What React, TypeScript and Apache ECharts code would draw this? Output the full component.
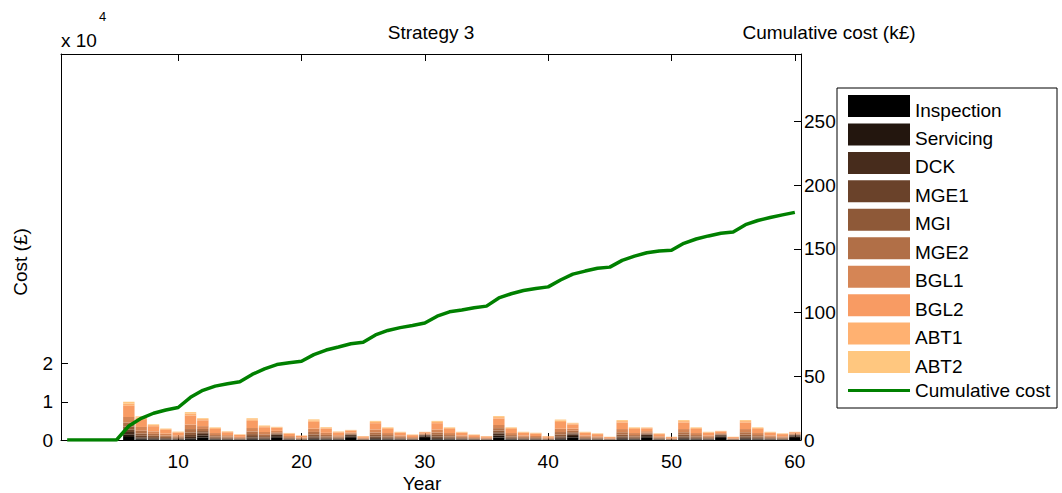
import { useEffect, useRef } from "react";
import * as echarts from "echarts";

// Cost components, stacked bottom to top (copper colour map)
const componentNames = ["Inspection", "Servicing", "DCK", "MGE1", "MGI", "MGE2", "BGL1", "BGL2", "ABT1", "ABT2"];
const componentColors = ["#000000", "#23160e", "#472c1c", "#6a422a", "#8e5938", "#b16f47", "#d58555", "#f89b63", "#ffb171", "#ffc77f"];

// Annual cost per component (£), years 1..60
const inspection = [0, 0, 0, 0, 0, 770, 190, 120, 90, 70, 220, 640, 100, 70, 40, 170, 110, 570, 60, 40, 160, 100, 70, 550, 30, 150, 100, 60, 40, 530, 150, 100, 60, 40, 30, 650, 100, 60, 60, 30, 160, 600, 60, 50, 30, 160, 100, 570, 50, 30, 160, 100, 60, 540, 30, 160, 100, 60, 50, 530];
const servicing = [0, 0, 0, 0, 0, 620, 190, 120, 90, 70, 220, 490, 100, 70, 40, 170, 110, 420, 60, 40, 160, 100, 70, 400, 30, 150, 100, 60, 40, 380, 150, 100, 60, 40, 30, 500, 100, 60, 60, 30, 160, 450, 60, 50, 30, 160, 100, 420, 50, 30, 160, 100, 60, 390, 30, 160, 100, 60, 50, 380];
const dck = [0, 0, 0, 0, 0, 700, 310, 210, 150, 110, 370, 480, 160, 110, 80, 290, 190, 370, 90, 60, 270, 170, 110, 330, 50, 250, 160, 110, 70, 300, 250, 160, 110, 70, 50, 510, 160, 110, 90, 50, 270, 420, 110, 90, 40, 260, 160, 360, 90, 40, 260, 160, 110, 310, 40, 260, 160, 110, 90, 300];
const mge1 = [0, 0, 0, 0, 0, 620, 430, 290, 210, 150, 510, 320, 230, 160, 100, 400, 270, 160, 130, 80, 380, 240, 160, 110, 70, 350, 230, 150, 100, 70, 350, 230, 150, 100, 70, 360, 230, 150, 130, 70, 370, 240, 150, 120, 60, 360, 230, 150, 120, 60, 360, 230, 150, 90, 60, 360, 230, 150, 120, 70];
const mgi = [0, 0, 0, 0, 0, 800, 560, 370, 270, 200, 660, 410, 300, 210, 140, 510, 340, 210, 170, 110, 490, 310, 200, 140, 100, 450, 300, 190, 130, 100, 450, 300, 190, 130, 100, 460, 300, 190, 170, 100, 480, 310, 190, 160, 80, 470, 300, 200, 160, 80, 470, 300, 190, 120, 80, 470, 300, 190, 160, 100];
const mge2 = [0, 0, 0, 0, 0, 1070, 740, 490, 360, 260, 880, 550, 400, 280, 180, 680, 460, 280, 220, 140, 650, 410, 270, 190, 130, 600, 400, 260, 180, 130, 600, 400, 260, 180, 130, 620, 400, 260, 230, 130, 640, 410, 260, 210, 100, 620, 400, 260, 210, 100, 620, 400, 260, 160, 100, 620, 400, 260, 210, 130];
const bgl1 = [0, 0, 0, 0, 0, 1420, 990, 660, 480, 350, 1170, 740, 530, 370, 240, 910, 610, 380, 300, 190, 860, 540, 360, 250, 170, 800, 530, 340, 230, 170, 800, 530, 340, 230, 170, 820, 530, 340, 300, 170, 860, 540, 340, 280, 130, 830, 530, 350, 280, 130, 830, 530, 340, 210, 130, 830, 530, 340, 280, 170];
const bgl2 = [0, 0, 0, 0, 0, 2940, 2050, 1350, 990, 730, 2400, 1520, 1090, 760, 500, 1880, 1250, 780, 600, 400, 1780, 1120, 740, 500, 350, 1650, 1090, 710, 480, 350, 1650, 1090, 710, 480, 350, 1700, 1090, 710, 630, 350, 1770, 1120, 710, 580, 280, 1720, 1090, 730, 580, 280, 1720, 1090, 710, 430, 280, 1720, 1090, 710, 580, 350];
const abt1 = [0, 0, 0, 0, 0, 620, 430, 290, 210, 150, 510, 320, 230, 160, 100, 400, 270, 160, 130, 80, 380, 240, 160, 110, 70, 350, 230, 160, 100, 70, 350, 230, 160, 100, 70, 370, 230, 160, 140, 70, 370, 240, 160, 120, 60, 360, 230, 150, 120, 60, 360, 230, 160, 90, 60, 360, 230, 160, 120, 70];
const abt2 = [0, 0, 0, 0, 0, 440, 310, 200, 150, 110, 360, 230, 160, 110, 80, 290, 190, 120, 90, 60, 270, 170, 110, 70, 50, 250, 160, 110, 80, 50, 250, 160, 110, 80, 50, 260, 160, 110, 90, 50, 270, 170, 110, 90, 40, 260, 160, 110, 90, 40, 260, 160, 110, 60, 40, 260, 160, 110, 90, 50];

const componentCosts = [inspection, servicing, dck, mge1, mgi, mge2, bgl1, bgl2, abt1, abt2];

// Cumulative cost (k£) at each year 1..60
const cumulativeCost = [0, 0, 0, 0, 0, 11, 17, 21, 23.5, 25.5, 33.5, 39, 42.3, 44.2, 45.8, 51.5, 55.8, 59.2, 60.6, 61.8, 67, 70.6, 73, 75.5, 76.8, 82.5, 86, 88.2, 89.9, 91.8, 97.2, 100.6, 102, 103.8, 105.1, 111.5, 114.8, 117.3, 118.9, 120.2, 125.6, 130.2, 132.6, 134.8, 135.7, 141, 144.3, 147, 148.4, 148.9, 154.4, 157.8, 160.2, 162.3, 163.3, 169, 172.3, 174.7, 176.7, 178.7];
const cumulativeName = "Cumulative cost";

const years = cumulativeCost.map((_, i) => String(i + 1));
const yearTicks = [10, 20, 30, 40, 50, 60];
const costTicks = [0, 10000, 20000];
const cumulativeTicks = [0, 50, 100, 150, 200, 250];

const FONT = "'Liberation Sans', Arial, Helvetica, sans-serif";
const FS = 19;
const axisLine = { show: true, onZero: false, lineStyle: { color: "#000", width: 1 } };
const tickStyle = { color: "#000", width: 1 };
const isYearTick = (i: number) => (i + 1) % 10 === 0;

// Legend box drawn as graphic elements
const LEG_X = 837;
const LEG_Y = 88;
const LEG_STEP = 28.45;

function legendGraphics() {
  const items: any[] = [
    { type: "rect", shape: { x: LEG_X, y: LEG_Y, width: 220, height: 320 }, style: { fill: "#fff", stroke: "#000", lineWidth: 1 }, z: 10 },
  ];
  componentNames.forEach((name, k) => {
    const top = LEG_Y + 7 + k * LEG_STEP;
    items.push({ type: "rect", shape: { x: LEG_X + 11, y: top, width: 62, height: 22 }, style: { fill: componentColors[k] }, z: 11 });
    items.push({ type: "text", x: LEG_X + 78, y: top + 15, style: { text: name, fill: "#000", fontSize: FS, fontFamily: FONT, verticalAlign: "middle" }, z: 11 });
  });
  const lineY = LEG_Y + 7 + 10 * LEG_STEP + 11;
  items.push({ type: "line", shape: { x1: LEG_X + 11, y1: lineY, x2: LEG_X + 73, y2: lineY }, style: { stroke: "#008000", lineWidth: 3 }, z: 11 });
  items.push({ type: "text", x: LEG_X + 78, y: lineY, style: { text: cumulativeName, fill: "#000", fontSize: FS, fontFamily: FONT, verticalAlign: "middle" }, z: 11 });
  return items;
}

export default function App() {
  const ref = useRef<HTMLDivElement>(null);

  useEffect(() => {
    if (!ref.current) return;
    const chart = echarts.init(ref.current, null, { renderer: "svg" });

    const barSeries = componentNames.map((name, k) => ({
      type: "bar",
      name,
      stack: "cost",
      xAxisIndex: 0,
      yAxisIndex: 0,
      barWidth: 11.4,
      itemStyle: { color: componentColors[k] },
      emphasis: { disabled: true },
      data: componentCosts[k],
    }));

    chart.setOption({
      animation: false,
      backgroundColor: "#fff",
      textStyle: { fontFamily: FONT },
      grid: { left: 61, right: 261, top: 54, bottom: 53, containLabel: false },
      xAxis: [
        {
          type: "category",
          position: "bottom",
          data: years,
          boundaryGap: true,
          axisLine,
          axisTick: { show: true, inside: true, length: 7, alignWithLabel: true, interval: isYearTick, lineStyle: tickStyle },
          axisLabel: { show: true, interval: isYearTick, color: "#000", fontSize: FS, fontFamily: FONT, margin: 12 },
          splitLine: { show: false },
        },
        {
          type: "value",
          position: "top",
          min: 0.5,
          max: 60.5,
          axisLine,
          axisTick: { show: true, inside: true, length: 7, customValues: yearTicks, lineStyle: tickStyle },
          axisLabel: { show: false },
          splitLine: { show: false },
        },
      ],
      yAxis: [
        {
          type: "value",
          position: "left",
          min: 0,
          max: 101000,
          axisLine,
          axisTick: { show: true, inside: true, length: 7, customValues: costTicks, lineStyle: tickStyle },
          axisLabel: {
            show: true,
            customValues: costTicks,
            formatter: (v: number) => String(v / 10000),
            color: "#000",
            fontSize: FS,
            fontFamily: FONT,
            margin: 8,
          },
          splitLine: { show: false },
        },
        {
          type: "value",
          position: "right",
          min: 0,
          max: 303,
          axisLine,
          axisTick: { show: true, inside: true, length: 7, customValues: cumulativeTicks, lineStyle: tickStyle },
          axisLabel: { show: true, customValues: cumulativeTicks, color: "#000", fontSize: FS, fontFamily: FONT, margin: 3 },
          splitLine: { show: false },
        },
      ],
      graphic: [
        { type: "text", x: 61, y: 40, style: { text: "x 10", fill: "#000", fontSize: FS, fontFamily: FONT, verticalAlign: "middle" } },
        { type: "text", x: 99, y: 16.5, style: { text: "4", fill: "#000", fontSize: 13, fontFamily: FONT, verticalAlign: "middle" } },
        { type: "text", x: 431, y: 32, style: { text: "Strategy 3", fill: "#000", fontSize: FS, fontFamily: FONT, align: "center", verticalAlign: "middle" } },
        { type: "text", x: 829, y: 32, style: { text: "Cumulative cost (k£)", fill: "#000", fontSize: FS, fontFamily: FONT, align: "center", verticalAlign: "middle" } },
        { type: "text", x: 20, y: 262, rotation: Math.PI / 2, style: { text: "Cost (£)", fill: "#000", fontSize: FS, fontFamily: FONT, align: "center", verticalAlign: "middle" } },
        { type: "text", x: 422, y: 483, style: { text: "Year", fill: "#000", fontSize: FS, fontFamily: FONT, align: "center", verticalAlign: "middle" } },
        ...legendGraphics(),
      ],
      series: [
        ...barSeries,
        {
          type: "line",
          name: cumulativeName,
          xAxisIndex: 1,
          yAxisIndex: 1,
          symbol: "none",
          showSymbol: false,
          lineStyle: { color: "#008000", width: 3.5 },
          itemStyle: { color: "#008000" },
          emphasis: { disabled: true },
          data: cumulativeCost.map((v, i) => [i + 1, v]),
        },
      ],
    });

    return () => chart.dispose();
  }, []);

  return <div ref={ref} style={{ position: "fixed", left: 0, top: 0, width: 1062, height: 493, background: "#fff" }} />;
}
